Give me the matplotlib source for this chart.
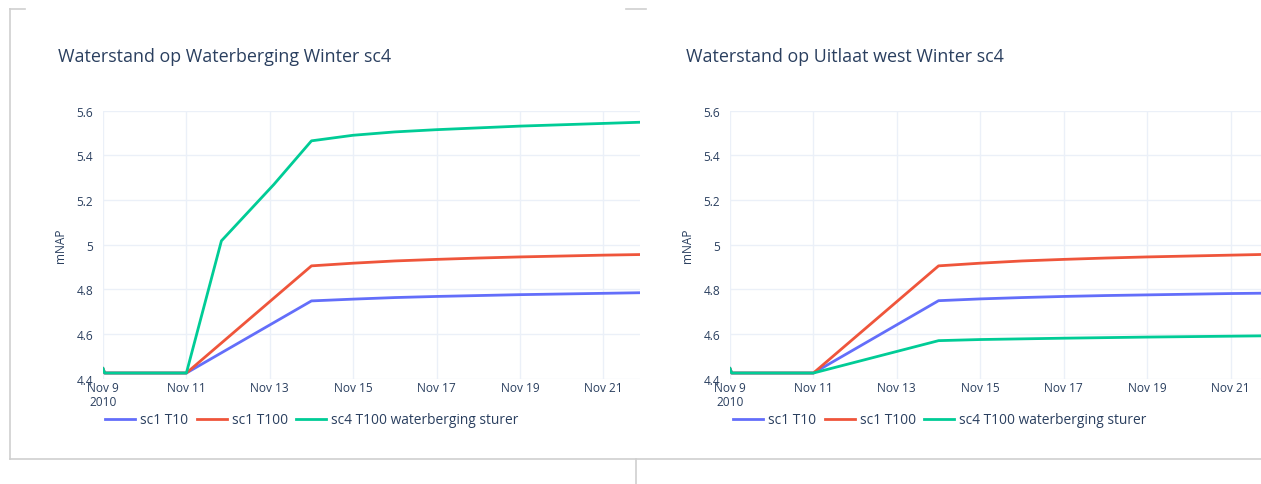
import pandas as pd
import matplotlib
matplotlib.use('Agg')
import matplotlib.pyplot as plt
from matplotlib.lines import Line2D

plt.rcParams['font.family'] = ['Open Sans', 'DejaVu Sans']

start = pd.Timestamp('2010-11-09 00:00')

# dagen sinds start en waterstanden (mNAP)
days_sc1 = [0, 0.04, 2.0, 5.0, 6, 7, 8, 9, 10, 11, 12, 13]
wb_sc1_t10 = [4.445, 4.425, 4.425, 4.748, 4.756, 4.763, 4.768, 4.772, 4.776, 4.779, 4.782, 4.785]
wb_sc1_t100 = [4.445, 4.425, 4.425, 4.905, 4.917, 4.927, 4.934, 4.940, 4.945, 4.949, 4.953, 4.956]
days_wb_sc4 = [0, 0.04, 2.0, 2.84, 4.1, 5.0, 6, 7, 8, 9, 10, 11, 12, 13]
wb_sc4_t100 = [4.445, 4.425, 4.425, 5.017, 5.27, 5.465, 5.49, 5.505, 5.515, 5.523, 5.531, 5.537, 5.543, 5.549]

uw_sc1_t10 = [4.445, 4.425, 4.425, 4.749, 4.757, 4.763, 4.768, 4.772, 4.775, 4.778, 4.781, 4.783]
uw_sc1_t100 = [4.445, 4.425, 4.425, 4.905, 4.917, 4.927, 4.934, 4.940, 4.945, 4.949, 4.953, 4.957]
days_uw_sc4 = [0, 0.04, 2.0, 5.0, 6, 8, 10, 12, 13]
uw_sc4_t100 = [4.445, 4.425, 4.425, 4.570, 4.575, 4.581, 4.586, 4.590, 4.592]

labels = ['sc1 T10', 'sc1 T100', 'sc4 T100 waterberging sturer']
colors = ['#636efa', '#EF553B', '#00cc96']
yticks = [4.4, 4.6, 4.8, 5.0, 5.2, 5.4, 5.6]
ytick_labels = ['4.4', '4.6', '4.8', '5', '5.2', '5.4', '5.6']
xtick_days = [0, 2, 4, 6, 8, 10, 12]
xtick_labels = ['Nov 9\n2010', 'Nov 11', 'Nov 13', 'Nov 15', 'Nov 17', 'Nov 19', 'Nov 21']

txt = '#2a3f5f'
grid = '#ebf0f8'


def to_dates(days):
    return start + pd.to_timedelta(days, unit='D')


def draw_panel(ax, title, title_x, series, xmax_days, legend_x):
    for (d, v), lab, col in zip(series, labels, colors):
        ax.plot(to_dates(d), v, color=col, lw=2, label=lab, solid_joinstyle='round')
    ax.set_xlim(start, start + pd.Timedelta(days=xmax_days))
    ax.set_ylim(4.4, 5.6)
    ax.set_yticks(yticks)
    ax.set_yticklabels(ytick_labels)
    ax.set_xticks(to_dates(xtick_days))
    ax.set_xticklabels(xtick_labels, ha='center', va='top', linespacing=1.1)
    ax.tick_params(length=0, labelsize=8.6, labelcolor=txt, pad=2)
    ax.tick_params(axis='y', pad=7)
    ax.grid(True, color=grid, lw=1)
    ax.set_axisbelow(True)
    for s in ax.spines.values():
        s.set_visible(False)
    ax.set_ylabel('mNAP', fontsize=8.6, color=txt, labelpad=7)
    fig.text(title_x / 1261, 1 - 57 / 485, title, fontsize=12.9, color=txt,
             ha='left', va='center')
    leg = fig.legend(*ax.get_legend_handles_labels(), loc='center left',
                     bbox_to_anchor=(legend_x / 1261, 1 - 421 / 485), ncol=3,
                     frameon=False, fontsize=9.9, handlelength=2.2,
                     handletextpad=0.36, columnspacing=0.6, borderaxespad=0,
                     borderpad=0)
    for t in leg.get_texts():
        t.set_color(txt)


fig = plt.figure(figsize=(12.61, 4.85), dpi=100)
fig.patch.set_facecolor('white')

ax1 = fig.add_axes([103 / 1261, 1 - 379.6 / 485, 537 / 1261, 267.9 / 485])
ax2 = fig.add_axes([730 / 1261, 1 - 379.6 / 485, 531 / 1261, 267.9 / 485])

draw_panel(ax1, 'Waterstand op Waterberging Winter sc4', 58,
           [(days_sc1, wb_sc1_t10), (days_sc1, wb_sc1_t100), (days_wb_sc4, wb_sc4_t100)],
           12.88, 105)
draw_panel(ax2, 'Waterstand op Uitlaat west Winter sc4', 686,
           [(days_sc1, uw_sc1_t10), (days_sc1, uw_sc1_t100), (days_uw_sc4, uw_sc4_t100)],
           12.73, 733)

# randen van de dashboard-panelen
border = '#cfcfcf'
W, H = 1261, 485
for xs, ys in [([10, 10], [10, 460]), ([10, 25], [10, 10]), ([10, 1261], [460, 460]),
               ([636, 636], [460, 485]), ([626, 646], [10, 10])]:
    fig.add_artist(Line2D([x / W for x in xs], [1 - y / H for y in ys],
                          color=border, lw=1.2, transform=fig.transFigure))

fig.savefig('out.png', dpi=100)
